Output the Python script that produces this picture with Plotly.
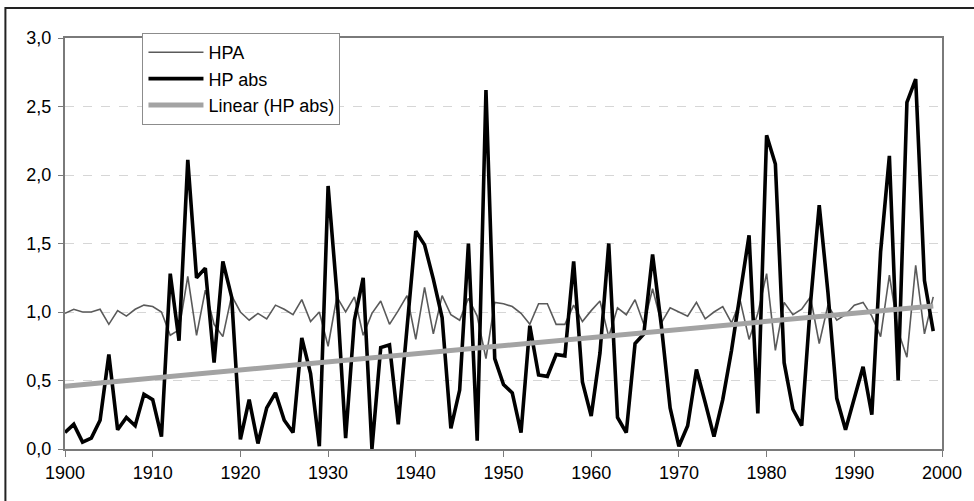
import numpy as np
import plotly.graph_objects as go

years = list(range(1900, 2000))

hp_abs = [
    0.12, 0.18, 0.05, 0.08, 0.21, 0.69, 0.14, 0.23, 0.17, 0.40,
    0.36, 0.09, 1.28, 0.79, 2.11, 1.25, 1.32, 0.63, 1.37, 1.11,
    0.07, 0.36, 0.04, 0.30, 0.41, 0.21, 0.12, 0.81, 0.55, 0.02,
    1.92, 1.14, 0.08, 0.94, 1.25, 0.00, 0.74, 0.76, 0.18, 0.88,
    1.59, 1.49, 1.24, 0.96, 0.15, 0.43, 1.50, 0.06, 2.62, 0.66,
    0.47, 0.41, 0.12, 0.90, 0.54, 0.53, 0.69, 0.68, 1.37, 0.49,
    0.24, 0.70, 1.50, 0.23, 0.12, 0.77, 0.84, 1.42, 0.90, 0.30,
    0.02, 0.17, 0.58, 0.34, 0.09, 0.36, 0.72, 1.14, 1.56, 0.26,
    2.29, 2.08, 0.63, 0.29, 0.17, 1.06, 1.78, 1.14, 0.37, 0.14,
    0.38, 0.60, 0.25, 1.44, 2.14, 0.50, 2.53, 2.70, 1.23, 0.86,
]

hpa = [
    0.99, 1.02, 1.00, 1.00, 1.02, 0.91, 1.01, 0.97, 1.02, 1.05,
    1.04, 1.00, 0.83, 0.87, 1.26, 0.83, 1.16, 0.91, 0.82, 1.12,
    1.00, 0.94, 0.99, 0.95, 1.05, 1.02, 0.98, 1.09, 0.93, 1.00,
    0.75, 1.11, 1.00, 1.11, 0.83, 0.99, 1.08, 0.91, 1.01, 1.12,
    0.80, 1.18, 0.84, 1.12, 0.98, 0.94, 1.10, 0.97, 0.66, 1.07,
    1.06, 1.04, 0.99, 0.91, 1.06, 1.06, 0.91, 0.91, 1.05, 0.93,
    1.01, 1.08, 0.82, 1.03, 0.98, 1.09, 0.91, 1.17, 0.92, 1.03,
    1.00, 0.97, 1.07, 0.95, 1.00, 1.04, 0.92, 1.08, 0.80, 0.99,
    1.28, 0.72, 1.07, 0.98, 1.02, 1.11, 0.77, 1.05, 0.94, 0.98,
    1.05, 1.07, 0.97, 0.82, 1.27, 0.86, 0.67, 1.34, 0.84, 1.11,
]

y_tick_vals = [0, 0.5, 1.0, 1.5, 2.0, 2.5, 3.0]
y_tick_labels = ["0,0", "0,5", "1,0", "1,5", "2,0", "2,5", "3,0"]
x_tick_vals = [1900, 1910, 1920, 1930, 1940, 1950, 1960, 1970, 1980, 1990, 2000]
x_tick_labels = [str(v) for v in x_tick_vals]

coef = np.polyfit(years, hp_abs, 1)
trend = np.polyval(coef, years)

FONT = "Liberation Sans, Arial, sans-serif"

fig = go.Figure()
fig.add_trace(go.Scatter(x=years, y=hpa, mode="lines", name="HPA",
                         line=dict(color="#5a5a5a", width=1.6), legendgroup="a"))
fig.add_trace(go.Scatter(x=years, y=hp_abs, mode="lines", name="HP abs",
                         line=dict(color="#000000", width=3.6), legendgroup="b"))
fig.add_trace(go.Scatter(x=years, y=trend, mode="lines", name="Linear (HP abs)",
                         line=dict(color="#a3a3a3", width=5), legendgroup="c"))

L, R, T, B = 65, 26, 38, 52
W, H = 974, 501
pw = W - L - R
ph = H - T - B

fig.update_layout(
    width=W, height=H,
    margin=dict(l=L, r=R, t=T, b=B, pad=0),
    paper_bgcolor="white", plot_bgcolor="white",
    font=dict(family=FONT, size=17, color="#000000"),
    showlegend=True,
    legend=dict(
        x=(143 - L) / pw, y=(H - B - 33) / ph, xanchor="left", yanchor="top",
        bgcolor="white", bordercolor="#8c8c8c", borderwidth=1,
        font=dict(family=FONT, size=18, color="#000000"),
        tracegroupgap=2,
        itemwidth=55,
        traceorder="normal",
    ),
    xaxis=dict(
        range=[1900, 2000], tickvals=x_tick_vals, ticktext=x_tick_labels,
        showgrid=False, zeroline=False,
        showline=True, linecolor="#7a7a7a", linewidth=2, mirror=True,
        ticks="outside", ticklen=6, tickcolor="#7a7a7a", tickwidth=1,
        tickfont=dict(family=FONT, size=18, color="#000000"),
    ),
    yaxis=dict(
        range=[0, 3], tickvals=y_tick_vals, ticktext=y_tick_labels,
        showgrid=True, gridcolor="#d6d6d6", griddash="dash", gridwidth=1,
        zeroline=False,
        showline=True, linecolor="#7a7a7a", linewidth=2, mirror=True,
        ticks="outside", ticklen=5, tickcolor="#7a7a7a", tickwidth=1,
        ticklabelstandoff=3,
        tickfont=dict(family=FONT, size=18, color="#000000"),
    ),
    shapes=[dict(
        type="rect", xref="paper", yref="paper",
        x0=(5 - L) / pw, x1=(W + 20 - L) / pw,
        y0=(H - B - (H + 20)) / ph, y1=(H - B - 8) / ph,
        line=dict(color="#222222", width=2), fillcolor="rgba(0,0,0,0)",
        layer="below",
    )],
)

fig.write_html("out.html")
